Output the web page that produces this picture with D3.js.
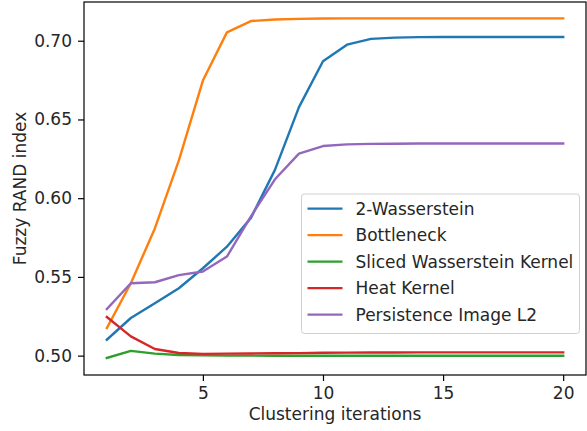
<!DOCTYPE html>
<html>
<head>
<meta charset="utf-8">
<script src="https://cdn.jsdelivr.net/npm/d3@7"></script>
<style>
  body { margin: 0; background: #fff; }
  svg { display: block; font-family: "DejaVu Sans", sans-serif; }
</style>
</head>
<body>
<div id="chart"></div>
<script>
// Values
const iterations = d3.range(1, 21);
const seriesNames = ["2-Wasserstein", "Bottleneck", "Sliced Wasserstein Kernel", "Heat Kernel", "Persistence Image L2"];
const seriesColors = ["#1f77b4", "#ff7f0e", "#2ca02c", "#d62728", "#9467bd"];

const wasserstein = [0.5101, 0.5239, 0.5333, 0.5428, 0.5555, 0.5692, 0.5875, 0.6180, 0.6578, 0.6870,
                     0.6975, 0.7012, 0.7020, 0.7023, 0.7024, 0.7024, 0.7024, 0.7024, 0.7024, 0.7024];
const bottleneck = [0.5175, 0.5460, 0.5808, 0.6240, 0.6747, 0.7053, 0.7125, 0.7135, 0.7139, 0.7141,
                    0.7142, 0.7142, 0.7142, 0.7142, 0.7142, 0.7142, 0.7142, 0.7142, 0.7142, 0.7142];
const slicedKernel = [0.4985, 0.5030, 0.5013, 0.5004, 0.5002, 0.5000, 0.5000, 0.4999, 0.4999, 0.4999,
                      0.4999, 0.4999, 0.4999, 0.4999, 0.4999, 0.4999, 0.4999, 0.4999, 0.4999, 0.4999];
const heatKernel = [0.5245, 0.5122, 0.5042, 0.5017, 0.5011, 0.5013, 0.5014, 0.5015, 0.5016, 0.5018,
                    0.5019, 0.5020, 0.5020, 0.5021, 0.5021, 0.5021, 0.5021, 0.5021, 0.5021, 0.5021];
const persistenceImage = [0.5296, 0.5460, 0.5466, 0.5511, 0.5534, 0.5629, 0.5885, 0.6120, 0.6283, 0.6331,
                          0.6342, 0.6345, 0.6346, 0.6347, 0.6347, 0.6347, 0.6347, 0.6347, 0.6347, 0.6347];
const seriesValues = [wasserstein, bottleneck, slicedKernel, heatKernel, persistenceImage];

const xTicks = [5, 10, 15, 20];
const yTicks = [0.50, 0.55, 0.60, 0.65, 0.70];

const width = 587, height = 431;
const plot = { left: 84, right: 586, top: 2, bottom: 375 };
const fontSize = 17;

const svg = d3.select("#chart").append("svg")
    .attr("width", width)
    .attr("height", height);

const x = d3.scaleLinear().domain([0.05, 20.95]).range([plot.left, plot.right]);
const y = d3.scaleLinear().domain([0.4877, 0.7246]).range([plot.bottom, plot.top]);

// Lines
const line = d3.line()
    .x((d, i) => x(iterations[i]))
    .y(d => y(d));

svg.append("g").attr("class", "lines")
    .selectAll("path")
    .data(seriesValues)
    .join("path")
    .attr("d", line)
    .attr("fill", "none")
    .attr("stroke", (d, i) => seriesColors[i])
    .attr("stroke-width", 2.4)
    .attr("stroke-linejoin", "round")
    .attr("stroke-linecap", "square");

// Axes
const xAxis = svg.append("g")
    .attr("transform", `translate(0,${plot.bottom})`)
    .call(d3.axisBottom(x).tickValues(xTicks).tickFormat(d3.format("d"))
        .tickSize(6).tickPadding(6).tickSizeOuter(0));
const yAxis = svg.append("g")
    .attr("transform", `translate(${plot.left},0)`)
    .call(d3.axisLeft(y).tickValues(yTicks).tickFormat(d3.format(".2f"))
        .tickSize(6).tickPadding(6).tickSizeOuter(0));

[xAxis, yAxis].forEach(a => {
    a.select(".domain").remove();
    a.selectAll(".tick line").attr("stroke", "#000").attr("stroke-width", 1.2);
    a.selectAll(".tick text")
        .attr("fill", "#262626")
        .style("font-size", fontSize + "px")
        .style("font-family", "DejaVu Sans");
});

// Frame
svg.append("rect")
    .attr("x", plot.left)
    .attr("y", plot.top)
    .attr("width", plot.right - plot.left)
    .attr("height", plot.bottom - plot.top)
    .attr("fill", "none")
    .attr("stroke", "#000")
    .attr("stroke-width", 1.2);

// Axis labels
svg.append("text")
    .attr("x", (plot.left + plot.right) / 2)
    .attr("y", 420)
    .attr("text-anchor", "middle")
    .attr("fill", "#262626")
    .style("font-size", fontSize + "px")
    .text("Clustering iterations");

svg.append("text")
    .attr("transform", `translate(25.5,${(plot.top + plot.bottom) / 2}) rotate(-90)`)
    .attr("text-anchor", "middle")
    .attr("fill", "#262626")
    .style("font-size", fontSize + "px")
    .text("Fuzzy RAND index");

// Legend
const legend = svg.append("g").attr("class", "legend");
legend.append("rect")
    .attr("x", 301.5)
    .attr("y", 194)
    .attr("width", 278)
    .attr("height", 139.5)
    .attr("rx", 3)
    .attr("fill", "#fff")
    .attr("fill-opacity", 0.8)
    .attr("stroke", "#d0d0d0")
    .attr("stroke-width", 1);

const rowStep = 26.5;
const rows = legend.selectAll("g.entry")
    .data(seriesNames)
    .join("g")
    .attr("class", "entry")
    .attr("transform", (d, i) => `translate(0,${208.6 + i * rowStep})`);
rows.append("line")
    .attr("x1", 307.5).attr("x2", 342.5)
    .attr("stroke", (d, i) => seriesColors[i])
    .attr("stroke-width", 2.4);
rows.append("text")
    .attr("x", 355.5)
    .attr("dy", "0.36em")
    .attr("fill", "#262626")
    .style("font-size", fontSize + "px")
    .text(d => d);
</script>
</body>
</html>
